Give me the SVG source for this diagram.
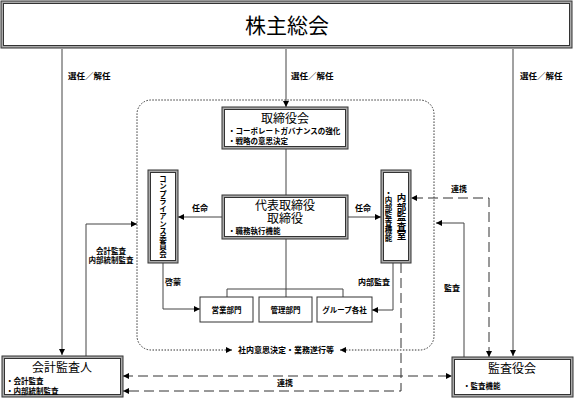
<svg xmlns="http://www.w3.org/2000/svg" width="574" height="398" viewBox="0 0 574 398">
<style>
text{font-family:"Noto Sans CJK JP","Noto Sans CJK SC",sans-serif;fill:#000}
.t20{font-size:21px}
.t12{font-size:12px}
.s{font-size:7.5px;font-weight:bold}
.l{font-size:8px;font-weight:bold}
.l85{font-size:8.5px;font-weight:bold}
.c{text-anchor:middle}
.v{writing-mode:vertical-rl;text-orientation:upright}
.o{fill:#aaa;stroke:#333;stroke-width:1}
.i{fill:#fff;stroke:#333;stroke-width:1}
.b{fill:#fff;stroke:#333;stroke-width:1}
.ln{fill:none;stroke:#444;stroke-width:1}
.dl{fill:none;stroke:#333;stroke-width:1;stroke-dasharray:10 5}
.dt{fill:none;stroke:#333;stroke-width:1;stroke-dasharray:1.5 1.5}
</style>
<defs>
<marker id="a" viewBox="0 0 10 10" refX="10" refY="5" markerWidth="8" markerHeight="6" orient="auto-start-reverse" markerUnits="userSpaceOnUse"><path d="M0,0 L10,5 L0,10 Z" fill="#000"/></marker>
</defs>
<g id="connectors">
<path class="ln" d="M62,49 V355" marker-end="url(#a)"/>
<path class="ln" d="M286,49 V107" stroke="#000" marker-end="url(#a)"/>
<path class="ln" d="M513,49 V356" marker-end="url(#a)"/>
<path class="dt" d="M232,350 H151 A14,14 0 0 1 137,336 V114 A14,14 0 0 1 151,100 H420 A14,14 0 0 1 434,114 V336 A14,14 0 0 1 420,350 H340" marker-start="url(#a)" marker-end="url(#a)"/>
<path class="ln" d="M286,149 V195"/>
<path class="ln" d="M286,239 V297"/>
<path class="ln" d="M227,297 V289 H343 V297"/>
<path class="ln" d="M222,217 H178" marker-end="url(#a)"/>
<path class="ln" d="M348,217 H381" marker-end="url(#a)"/>
<path class="ln" d="M163,263 V309 H200" marker-end="url(#a)"/>
<path class="ln" d="M393,263 V310 H372" marker-end="url(#a)"/>
<path class="ln" d="M86,356 V224 H137" marker-end="url(#a)"/>
<path class="ln" d="M464,357 V223 H436" marker-end="url(#a)"/>
<path class="dl" d="M489,357 V198 H411" marker-start="url(#a)" marker-end="url(#a)"/>
<path class="dl" d="M123,376 H452" marker-start="url(#a)" marker-end="url(#a)"/>
<path class="dl" d="M401,263 V391 H123" marker-end="url(#a)"/>
<text class="l85" x="68" y="79">選任／解任</text>
<text class="l85" x="291" y="79">選任／解任</text>
<text class="l85" x="520" y="79">選任／解任</text>
<text class="l c" x="200" y="211">任命</text>
<text class="l c" x="363" y="211">任命</text>
<text class="l c" x="459" y="192">連携</text>
<text class="l c" x="452" y="291">監査</text>
<text class="l c" x="173" y="285">啓蒙</text>
<text class="l c" x="374" y="285">内部監査</text>
<text class="s c"><tspan x="111" y="254">会計監査</tspan><tspan x="111" y="263">内部統制監査</tspan></text>
<text class="l c" x="285" y="386">連携</text>
<text class="l c" x="286" y="353">社内意思決定・業務遂行等</text>
</g>
<g id="shareholders">
<rect class="o" x="1" y="1" width="571" height="47"/>
<rect class="i" x="3.5" y="3.5" width="566" height="42"/>
<text class="t20 c" x="287" y="33">株主総会</text>
</g>
<g id="board">
<rect class="o" x="222" y="107" width="126" height="42"/>
<rect class="i" x="224.5" y="109.5" width="121" height="37"/>
<text class="t12 c" x="285" y="123">取締役会</text>
<text class="s" x="228" y="134">・コーポレートガバナンスの強化</text>
<text class="s" x="228" y="144">・戦略の意思決定</text>
</g>
<g id="representative">
<rect class="o" x="222" y="195" width="126" height="44"/>
<rect class="i" x="224.5" y="197.5" width="121" height="39"/>
<text class="t12 c"><tspan x="285" y="209.5">代表取締役</tspan><tspan x="285" y="222.5">取締役</tspan></text>
<text class="s" x="228" y="234">・職務執行機能</text>
</g>
<g id="compliance">
<rect class="o" x="148" y="170" width="30" height="93"/>
<rect class="i" x="150.5" y="172.5" width="25" height="88"/>
<text class="s v" x="163" y="175">コンプライアンス委員会</text>
</g>
<g id="internal-audit">
<rect class="o" x="381" y="170" width="30" height="93"/>
<rect class="i" x="383.5" y="172.5" width="25" height="88"/>
<text class="v" x="401.5" y="193" style="font-size:9.5px;font-weight:bold">内部監査室</text>
<text class="s v" x="388.5" y="189">・内部監査機能</text>
</g>
<g id="sales">
<rect class="b" x="200" y="297" width="53" height="25"/>
<text class="s c" x="226.5" y="312.5">営業部門</text>
</g>
<g id="admin">
<rect class="b" x="259" y="297" width="53" height="25"/>
<text class="s c" x="285.5" y="312.5">管理部門</text>
</g>
<g id="group">
<rect class="b" x="317" y="297" width="55" height="25"/>
<text class="s c" x="344.5" y="312.5">グループ各社</text>
</g>
<g id="accounting-auditor">
<rect class="o" x="2" y="356" width="121" height="41"/>
<rect class="i" x="4.5" y="358.5" width="116" height="36"/>
<text class="t12 c" x="62" y="372">会計監査人</text>
<text class="s" x="6" y="384">・会計監査</text>
<text class="s" x="6" y="394">・内部統制監査</text>
</g>
<g id="audit-board">
<rect class="o" x="452" y="357" width="121" height="40"/>
<rect class="i" x="454.5" y="359.5" width="116" height="35"/>
<text class="t12 c" x="512" y="373">監査役会</text>
<text class="s" x="463" y="389">・監査機能</text>
</g>
</svg>
